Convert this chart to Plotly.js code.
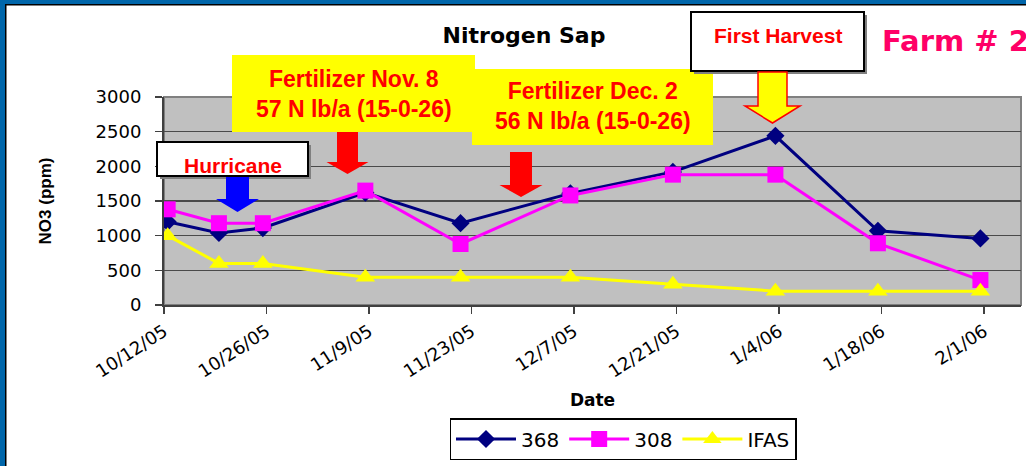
<!DOCTYPE html>
<html><head><meta charset="utf-8">
<script src="https://cdn.plot.ly/plotly-3.0.1.min.js"></script>
<style>html,body{margin:0;padding:0;background:#fff;}#chart{width:1026px;height:466px;}</style>
</head><body><div id="chart"></div>
<script>
// ---- data ----
const dates = ['2005-10-12','2005-10-19','2005-10-25','2005-11-08','2005-11-21','2005-12-06','2005-12-20','2006-01-03','2006-01-17','2006-01-31'];
const s368 = [1200,1040,1110,1620,1180,1610,1920,2440,1070,960];
const s308 = [1380,1180,1180,1650,880,1580,1880,1880,890,360];
const ifas = [1000,600,600,400,400,400,300,200,200,200];
const seriesNames = ['368','308','IFAS'];
const tickLabels = ['10/12/05','10/26/05','11/9/05','11/23/05','12/7/05','12/21/05','1/4/06','1/18/06','2/1/06'];
const yTicks = [0,500,1000,1500,2000,2500,3000];

// ---- geometry helpers (pixel -> paper) ----
const W = 1026, H = 466;
const L = 164, R = 1021, T = 97, B = 305;
const px = x => (x - L) / (R - L);
const py = y => (B - y) / (B - T);

// Excel date axis: points sit mid-day, ticks at day start
function tickPos(lbl){
  const [m,d,y] = lbl.split('/').map(Number);
  const t = Date.UTC(2000 + y, m - 1, d) - 12 * 3600e3;
  return new Date(t).toISOString().replace('T',' ').slice(0,19);
}

const FONT = 'DejaVu Sans, Verdana, sans-serif';
const ARIAL = 'Liberation Sans, Arial, sans-serif';

const traces = [
  {x: dates, y: s368, name: seriesNames[0], mode: 'lines+markers',
   line: {color: '#000080', width: 3},
   marker: {symbol: 'diamond', size: 14, color: '#000080'}},
  {x: dates, y: s308, name: seriesNames[1], mode: 'lines+markers',
   line: {color: '#FF00FF', width: 3},
   marker: {symbol: 'square', size: 16, color: '#FF00FF'}},
  {x: dates, y: ifas, name: seriesNames[2], mode: 'lines+markers',
   line: {color: '#FFFF00', width: 3},
   marker: {symbol: 'triangle-up', size: 17, color: '#FFFF00'}}
];

function rect(x0, y0, x1, y1, fill, line, lw, layer){
  return {type: 'rect', xref: 'paper', yref: 'paper',
    x0: px(x0), x1: px(x1), y0: py(y1), y1: py(y0),
    fillcolor: fill, line: {color: line || 'rgba(0,0,0,0)', width: lw || 0},
    layer: layer || 'above'};
}
function arrow(cx, top, hs, tip, sh, hh, fill, line, lw){
  const p = [[cx-sh,top],[cx+sh,top],[cx+sh,hs],[cx+hh,hs],[cx,tip],[cx-hh,hs],[cx-sh,hs]];
  const path = 'M' + p.map(q => px(q[0]).toFixed(5) + ',' + py(q[1]).toFixed(5)).join('L') + 'Z';
  return {type: 'path', xref: 'paper', yref: 'paper', path: path,
    fillcolor: fill, line: {color: line || fill, width: lw || 0}, layer: 'above'};
}
function txt(text, cx, cy, size, color, family, anchor){
  return {text: text, xref: 'paper', yref: 'paper', x: px(cx), y: py(cy),
    xanchor: anchor || 'center', yanchor: 'middle', showarrow: false,
    font: {family: family || ARIAL, size: size, color: color, weight: 'bold'}};
}

const shapes = [
  // plot area border
  {type: 'rect', xref: 'paper', yref: 'paper', x0: 0, x1: 1, y0: 0, y1: 1,
   line: {color: '#808080', width: 2}, layer: 'below'},
  // yellow fertilizer boxes
  rect(232, 55, 475, 132, '#FFFF00'),
  rect(472, 69, 713, 145, '#FFFF00'),
  // hurricane box with shadow
  rect(160, 145, 311, 179, '#808080'),
  rect(157, 142, 308, 176, '#FFFFFF', '#000000', 2),
  // first harvest box with shadow
  rect(694, 15, 867, 74, '#808080'),
  rect(691, 12, 864, 71, '#FFFFFF', '#000000', 2),
  // arrows
  arrow(237.5, 177, 199, 212, 11.5, 21.5, '#0000FF'),
  arrow(347.5, 132, 162, 174, 10.5, 21, '#FF0000'),
  arrow(521, 152, 185, 197, 11, 21.5, '#FF0000'),
  arrow(772.5, 72, 106, 123, 14.5, 27.5, '#FFFF00', '#FF0000', 1.5),
  // slide frame (blue band + thin black line)
  rect(-5, -5, 1035, 4, '#0066AA'),
  rect(-5, -5, 5, 475, '#0066AA'),
  rect(5, 4, 1035, 5.5, '#000000'),
  rect(5, 4, 6.5, 475, '#000000')
];

const annotations = [
  txt('Fertilizer Nov. 8<br>57 N lb/a (15-0-26)', 354, 94, 23, '#FF0000'),
  txt('Fertilizer Dec. 2<br>56 N lb/a (15-0-26)', 593, 106.5, 23, '#FF0000'),
  txt('Hurricane', 232.5, 165, 21, '#FF0000'),
  txt('First Harvest', 777.5, 36, 21, '#FF0000'),
  txt('Farm # 2', 880, 41, 29, '#FF0066', FONT, 'left')
];

const layout = {
  width: W, height: H,
  margin: {l: L, r: W - R, t: T, b: H - B, pad: 0, autoexpand: false},
  paper_bgcolor: '#FFFFFF',
  plot_bgcolor: '#C0C0C0',
  showlegend: true,
  title: {text: 'Nitrogen Sap', xref: 'container', yref: 'container',
    x: 524 / W, y: 1 - 35 / H, xanchor: 'center', yanchor: 'middle',
    font: {family: FONT, size: 22, color: '#000000', weight: 'bold'}},
  xaxis: {
    type: 'date',
    range: ['2005-10-11 12:00:00', '2006-02-05 13:00:00'],
    tickmode: 'array', tickvals: tickLabels.map(tickPos), ticktext: tickLabels,
    tickangle: -33, ticks: 'outside', ticklen: 7, tickwidth: 1.5, tickcolor: '#404040',
    tickfont: {family: FONT, size: 18, color: '#000000'},
    showgrid: false, zeroline: false,
    showline: true, linecolor: '#404040', linewidth: 2,
    layer: 'below traces',
    title: {text: 'Date', standoff: 14, font: {family: FONT, size: 17, color: '#000000', weight: 'bold'}}
  },
  yaxis: {
    range: [0, 3000], tickmode: 'array', tickvals: yTicks,
    ticks: 'outside', ticklen: 7, tickwidth: 1.5, tickcolor: '#404040',
    ticklabelstandoff: 10,
    tickfont: {family: FONT, size: 18, color: '#000000'},
    showgrid: true, gridcolor: '#4a4a4a', gridwidth: 1.5,
    zeroline: false, showline: true, linecolor: '#404040', linewidth: 2,
    layer: 'below traces',
    title: {text: 'NO3 (ppm)', standoff: 40, font: {family: ARIAL, size: 17, color: '#000000', weight: 'bold'}}
  },
  legend: {
    orientation: 'h', x: px(623), y: py(439), xanchor: 'center', yanchor: 'middle',
    bgcolor: '#FFFFFF', bordercolor: '#000000', borderwidth: 1.5,
    font: {family: FONT, size: 20, color: '#000000'},
    itemwidth: 60, tracegroupgap: 0
  },
  shapes: shapes,
  annotations: annotations
};

Plotly.newPlot('chart', traces, layout, {displayModeBar: false, staticPlot: true});
</script>
</body></html>
